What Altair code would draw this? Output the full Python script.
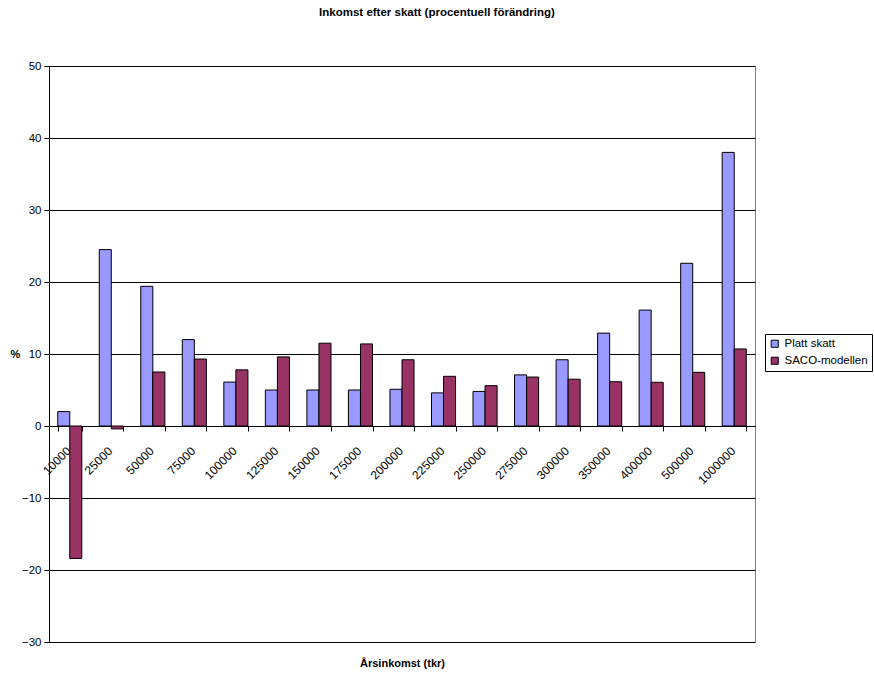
import altair as alt
import pandas as pd

categories = ["10000", "25000", "50000", "75000", "100000", "125000", "150000",
              "175000", "200000", "225000", "250000", "275000", "300000",
              "350000", "400000", "500000", "1000000"]
series = ["Platt skatt", "SACO-modellen"]
platt = [2.0, 24.5, 19.4, 12.0, 6.1, 5.0, 5.0, 5.0, 5.1, 4.6, 4.8, 7.1, 9.2,
         12.9, 16.1, 22.6, 38.0]
saco = [-18.4, -0.4, 7.5, 9.3, 7.8, 9.6, 11.5, 11.4, 9.2, 6.9, 5.6, 6.8, 6.5,
        6.15, 6.07, 7.45, 10.7]
colors = ["#9999FF", "#993366"]
y_ticks = [-30, -20, -10, 0, 10, 20, 30, 40, 50]

rows = []
for c, p, s in zip(categories, platt, saco):
    rows.append({"Inkomst": c, "Serie": series[0], "Varde": p})
    rows.append({"Inkomst": c, "Serie": series[1], "Varde": s})
df = pd.DataFrame(rows)

FONT = "Liberation Sans"

chart = alt.Chart(df).mark_bar(stroke="black", strokeWidth=1).encode(
    x=alt.X("Inkomst:N", sort=categories,
            scale=alt.Scale(paddingInner=0.42, paddingOuter=0.21),
            axis=alt.Axis(orient="bottom", offset=-216, labelAngle=-45,
                          labelAlign="right", labelBaseline="top",
                          tickBand="extent", tickSize=5, labelPadding=14,
                          labelOffset=-5, labelFontSize=12,
                          grid=False, title="Årsinkomst (tkr)", titleY=237,
                          titleBaseline="middle", titleFontWeight="bold",
                          titleFontSize=11)),
    xOffset=alt.XOffset("Serie:N", sort=series,
                        scale=alt.Scale(paddingInner=0, paddingOuter=0)),
    y=alt.Y("Varde:Q", scale=alt.Scale(domain=[-30, 50], nice=False),
            axis=alt.Axis(values=y_ticks, tickSize=5, labelPadding=3,
                          labelFontSize=11.5, gridColor="black",
                          title="%", titleAngle=0, titleX=-34, titleY=288,
                          titleAlign="center", titleBaseline="middle",
                          titleFontWeight="bold", titleFontSize=11)),
    color=alt.Color("Serie:N", sort=series,
                    scale=alt.Scale(domain=series, range=colors),
                    legend=alt.Legend(title=None, orient="none", legendX=716,
                                      legendY=268, strokeColor="black",
                                      fillColor="white", padding=4,
                                      symbolType="square", symbolSize=50,
                                      symbolStrokeColor="black",
                                      symbolStrokeWidth=1, labelFontSize=11.5,
                                      labelFont=FONT, rowPadding=4,
                                      labelColor="black", symbolOpacity=1)),
).properties(
    width=706, height=576,
    background="white",
    title=alt.Title("Inkomst efter skatt (procentuell förändring)",
                    fontSize=11.5, fontWeight="bold", font=FONT,
                    color="black", anchor="middle", dx=35, offset=42),
    autosize=alt.AutoSizeParams(type="none"),
    padding={"left": 49, "top": 66, "right": 119, "bottom": 36},
).configure_view(
    stroke="#808080", strokeWidth=1
).configure_axis(
    labelFont=FONT, titleFont=FONT, labelColor="black",
    titleColor="black", domainColor="black", tickColor="black",
    gridColor="black", gridOpacity=1
)

chart.save("out.html", embed_options={"renderer": "svg", "actions": False})
